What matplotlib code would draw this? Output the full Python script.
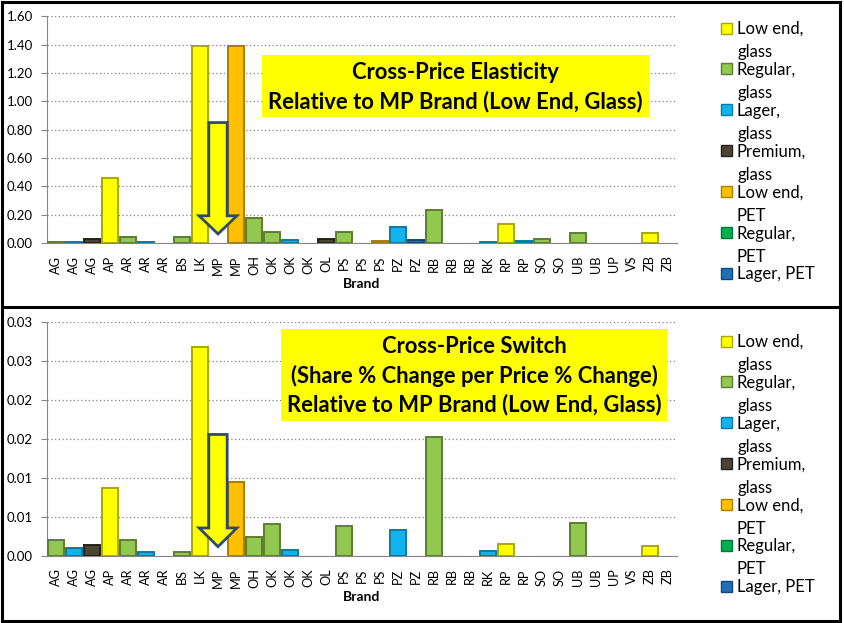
import numpy as np
import matplotlib.pyplot as plt
from matplotlib.patches import Polygon, Rectangle
from matplotlib.lines import Line2D

plt.rcParams['font.family'] = ['Lato', 'DejaVu Sans']

# categories (brand per bar) and the segment each bar belongs to
brands = ['AG', 'AG', 'AG', 'AP', 'AR', 'AR', 'AR', 'BS', 'LK', 'MP', 'MP', 'OH',
          'OK', 'OK', 'OK', 'OL', 'PS', 'PS', 'PS', 'PZ', 'PZ', 'RB', 'RB', 'RB',
          'RK', 'RP', 'RP', 'SO', 'SO', 'UB', 'UB', 'UP', 'VS', 'ZB', 'ZB']
segments = [1, 2, 3, 0, 1, 2, 6, 1, 0, 0, 4, 1,
            1, 2, 5, 3, 1, 5, 4, 2, 6, 1, 5, 6,
            2, 0, 2, 1, 5, 1, 5, 0, 0, 0, 4]
segment_names = ['Low end,\nglass', 'Regular,\nglass', 'Lager,\nglass', 'Premium,\nglass',
                 'Low end,\nPET', 'Regular,\nPET', 'Lager, PET']
seg_colors = ['#FFFF00', '#92C850', '#12B2EC', '#4A4532', '#FFC000', '#00B050', '#1F70B8']
seg_edges = ['#A8A800', '#5C7E30', '#0A7AA6', '#25221A', '#A87E00', '#00773A', '#124878']

# cross-price elasticity
elasticity = [0.01, 0.007, 0.03, 0.457, 0.04, 0.007, 0, 0.04, 1.39, 0, 1.39, 0.175,
              0.075, 0.022, 0, 0.03, 0.075, 0, 0.016, 0.11, 0.02, 0.233, 0, 0,
              0.007, 0.135, 0.016, 0.025, 0, 0.068, 0, 0, 0, 0.07, 0]
elasticity_ref = 0.85   # the MP (low end, glass) arrow
# cross-price switch
switch = [0.0021, 0.001, 0.00145, 0.0087, 0.002, 0.0005, 0, 0.0005, 0.0268, 0, 0.0095, 0.0025,
          0.0041, 0.00077, 0, 0, 0.0039, 0, 0, 0.0034, 0, 0.0153, 0, 0,
          0.00064, 0.00154, 0, 0, 0, 0.00424, 0, 0, 0, 0.00128, 0]
switch_ref = 0.0156

elast_ticks = [0, 0.2, 0.4, 0.6, 0.8, 1.0, 1.2, 1.4, 1.6]
elast_labels = ['0.00', '0.20', '0.40', '0.60', '0.80', '1.00', '1.20', '1.40', '1.60']
switch_ticks = [0, 0.005, 0.01, 0.015, 0.02, 0.025, 0.03]
switch_labels = ['0.00', '0.01', '0.01', '0.02', '0.02', '0.03', '0.03']

title1 = 'Cross-Price Elasticity\nRelative to MP Brand (Low End, Glass)'
title2 = 'Cross-Price Switch\n(Share % Change per Price % Change)\nRelative to MP Brand (Low End, Glass)'

W, H = 844, 623
fig = plt.figure(figsize=(W / 100, H / 100), dpi=100)


def fx(x):
    return x / W


def fy(y):
    return 1 - y / H


def draw_panel(ax, values, ref, ymax, ticks, labels, height_px):
    x = np.arange(len(brands))
    for xi, v, s in zip(x, values, segments):
        if v > 0:
            ax.bar(xi, v, width=0.92, color=seg_colors[s], edgecolor=seg_edges[s],
                   linewidth=1.4, zorder=3)
    ax.set_xlim(-0.5, len(brands) - 0.5)
    ax.set_ylim(0, ymax)
    ax.set_yticks(ticks)
    ax.set_yticklabels(labels)
    ax.set_xticks(x)
    ax.set_xticklabels(brands, rotation=90)
    ax.tick_params(axis='x', length=0, pad=9, labelsize=9.2)
    ax.tick_params(axis='y', length=4, pad=6, labelsize=9.5, color='#868686')
    for sp in ['top', 'right']:
        ax.spines[sp].set_visible(False)
    for sp in ['left', 'bottom']:
        ax.spines[sp].set_color('#868686')
    ax.grid(axis='y', color='#808080', linestyle=(0, (1, 2)), linewidth=0.9, zorder=0)
    ax.set_axisbelow(True)
    ax.set_xlabel('Brand', fontweight='bold', fontsize=10)
    ax.xaxis.set_label_coords(0.5, -41 / height_px, transform=ax.transAxes)
    ax.xaxis.label.set_va('center')

    # arrow marking the reference brand
    c = brands.index('MP')
    tip, head = ymax * 0.04, ymax * 0.12
    pts = [(c - 0.51, ref), (c + 0.51, ref), (c + 0.51, head), (c + 1.05, head),
           (c, tip), (c - 1.05, head), (c - 0.51, head)]
    ax.add_patch(Polygon(pts, closed=True, facecolor='#FFFF00', edgecolor='#2F4A6A',
                         linewidth=2, zorder=4))


def draw_legend(y0):
    for i, name in enumerate(segment_names):
        yc = y0 + i * 40.9
        fig.add_artist(Rectangle((fx(721), fy(yc + 5.5)), 11 / W, 11 / H,
                                 transform=fig.transFigure, facecolor=seg_colors[i],
                                 edgecolor=seg_edges[i], linewidth=1))
        for j, line in enumerate(name.split('\n')):
            fig.text(fx(737), fy(yc + 1 + j * 23), line, fontsize=12, va='center', ha='left')


def draw_title(text, x0, y0, x1, y1, lines_y):
    fig.add_artist(Rectangle((fx(x0), fy(y1)), (x1 - x0) / W, (y1 - y0) / H,
                             transform=fig.transFigure, facecolor='#FFFF00',
                             edgecolor='none', zorder=5))
    for line, ly in zip(text.split('\n'), lines_y):
        fig.text(fx((x0 + x1) / 2), fy(ly), line, fontsize=15.8, fontweight='bold',
                 ha='center', va='center', zorder=6)


ax1 = fig.add_axes([fx(47), fy(243), 630 / W, (243 - 16.3) / H])
draw_panel(ax1, elasticity, elasticity_ref, 1.6, elast_ticks, elast_labels, 243 - 16.3)
ax2 = fig.add_axes([fx(47), fy(556), 630 / W, (556 - 322.3) / H])
draw_panel(ax2, switch, switch_ref, 0.03, switch_ticks, switch_labels, 556 - 322.3)

draw_title(title1, 262, 55, 649, 117, [72.7, 101.7])
draw_title(title2, 281, 329, 667, 421, [346.7, 375.7, 404.3])
draw_legend(28)
draw_legend(341)

# panel frames
for seg in [((1.5, 1.5), (1.5, 620.5)), ((1.5, 839.5), (1.5, 1.5)),
            ((1.5, 839.5), (620.5, 620.5)), ((839.5, 839.5), (1.5, 620.5)),
            ((1.5, 839.5), (307, 307))]:
    xs, ys = seg
    fig.add_artist(Line2D([fx(v) for v in xs], [fy(v) for v in ys], color='black',
                          linewidth=2.2, transform=fig.transFigure))

fig.savefig('out.png', dpi=100)
